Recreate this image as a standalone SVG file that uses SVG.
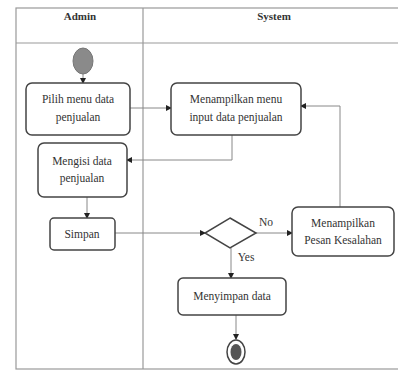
<svg xmlns="http://www.w3.org/2000/svg" width="398" height="373" viewBox="0 0 398 373">
<style>
.lane{fill:none;stroke:#999;stroke-width:1.2}
.box{fill:#fff;stroke:#444;stroke-width:1.5}
.t{font-family:"Liberation Serif",serif;font-size:11.5px;fill:#333;text-anchor:middle}
.h{font-family:"Liberation Serif",serif;font-size:11px;font-weight:bold;fill:#333;text-anchor:middle}
.c{fill:none;stroke:#888;stroke-width:1}
</style>
<defs>
<marker id="a" markerWidth="6" markerHeight="6" refX="5" refY="3" orient="auto" markerUnits="userSpaceOnUse">
<path d="M0,0 L6,3 L0,6 Z" fill="#222"/>
</marker>
</defs>
<rect x="0" y="0" width="398" height="373" fill="#fff"/>
<g id="lanes">
<rect class="lane" x="16" y="8" width="390" height="361"/>
<line class="lane" x1="16" y1="43" x2="398" y2="43"/>
<line class="lane" x1="143" y1="8" x2="143" y2="369"/>
<text class="h" x="80" y="20">Admin</text>
<text class="h" x="274" y="20">System</text>
</g>
<g id="connectors">
<line class="c" x1="83" y1="74" x2="83" y2="83" marker-end="url(#a)"/>
<line class="c" x1="130" y1="108" x2="171" y2="108" marker-end="url(#a)"/>
<polyline class="c" points="232,135 232,160 127,160" marker-end="url(#a)"/>
<line class="c" x1="87" y1="197" x2="87" y2="218" marker-end="url(#a)"/>
<line class="c" x1="115" y1="233" x2="205" y2="233" marker-end="url(#a)"/>
<line class="c" x1="256" y1="233" x2="292" y2="233" marker-end="url(#a)"/>
<polyline class="c" points="340,207 340,106 301,106" marker-end="url(#a)"/>
<line class="c" x1="231" y1="248" x2="231" y2="278" marker-end="url(#a)"/>
<line class="c" x1="236" y1="315" x2="236" y2="339" marker-end="url(#a)"/>
<text class="t" x="266" y="226">No</text>
<text class="t" x="246" y="261">Yes</text>
</g>
<g id="start">
<ellipse cx="83" cy="61" rx="10" ry="13" fill="#8a8a8a" stroke="#777" stroke-width="1"/>
</g>
<g id="pilih">
<rect class="box" x="26" y="83" width="104" height="52" rx="6"/>
<text class="t" x="78" y="103">Pilih menu data</text>
<text class="t" x="78" y="121">penjualan</text>
</g>
<g id="menampilkan-menu">
<rect class="box" x="171" y="83" width="130" height="52" rx="6"/>
<text class="t" x="236" y="103">Menampilkan menu</text>
<text class="t" x="236" y="121">input data penjualan</text>
</g>
<g id="mengisi">
<rect class="box" x="38" y="143" width="89" height="54" rx="6"/>
<text class="t" x="82" y="165">Mengisi data</text>
<text class="t" x="82" y="182">penjualan</text>
</g>
<g id="simpan">
<rect class="box" x="50" y="218" width="65" height="32" rx="4"/>
<text class="t" x="82" y="238">Simpan</text>
</g>
<g id="decision">
<polygon points="230,218 256,233 230,248 205,233" fill="#fff" stroke="#444" stroke-width="1.5"/>
</g>
<g id="pesan">
<rect class="box" x="292" y="207" width="102" height="49" rx="6"/>
<text class="t" x="343" y="227">Menampilkan</text>
<text class="t" x="343" y="244">Pesan Kesalahan</text>
</g>
<g id="menyimpan">
<rect class="box" x="178" y="278" width="108" height="37" rx="5"/>
<text class="t" x="232" y="300">Menyimpan data</text>
</g>
<g id="end">
<ellipse cx="236" cy="352" rx="9" ry="12" fill="#fff" stroke="#444" stroke-width="1.5"/>
<ellipse cx="236" cy="352" rx="5.5" ry="8" fill="#555"/>
</g>
</svg>
